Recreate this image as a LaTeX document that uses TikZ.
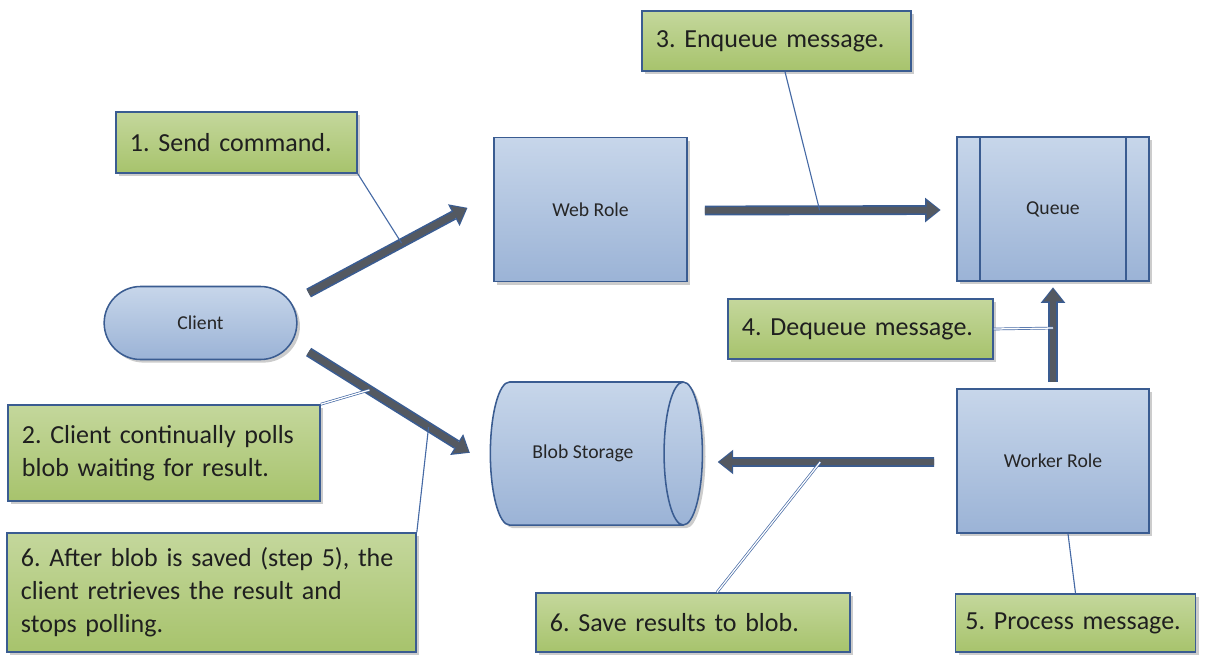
\documentclass[tikz,border=0pt]{standalone}
\usepackage{fontspec}
\setmainfont{Carlito}
\usetikzlibrary{arrows.meta}
\usetikzlibrary{shapes.geometric,shapes.misc}
\usetikzlibrary{shadows}
\definecolor{boxtop}{RGB}{199,214,234}
\definecolor{boxbot}{RGB}{155,179,214}
\definecolor{edgeblue}{RGB}{58,92,145}
\definecolor{notetop}{RGB}{196,215,156}
\definecolor{notebot}{RGB}{167,195,108}
\definecolor{shaft}{RGB}{84,89,97}
\definecolor{leadblue}{RGB}{70,106,165}

\begin{document}
\begin{tikzpicture}[x=0.025cm,y=-0.025cm,
        role/.style={draw=edgeblue,line width=1.1pt,top color=boxtop,bottom color=boxbot,
          text=black!85,font=\fontsize{14}{16}\selectfont,
          drop shadow={shadow xshift=2.2pt,shadow yshift=-2.2pt,opacity=.4}},
        note/.style={draw=edgeblue,line width=1.1pt,top color=notetop,bottom color=notebot,
          text=black!88,font=\fontsize{18.5}{23.5}\selectfont\frenchspacing,align=left,inner xsep=0.35cm,
          drop shadow={shadow xshift=2.2pt,shadow yshift=-2.2pt,opacity=.4}},
        blk/.style={draw=shaft,line width=4.6pt,-{Triangle[length=9pt,width=13.5pt,line width=0pt]},
          preaction={draw=edgeblue,line width=7pt,shorten >=-1pt,
            -{Triangle[length=11pt,width=17.5pt,line width=0pt]}}},
        lead/.style={draw=leadblue,line width=.8pt},
        lead2/.style={draw=leadblue,line width=.5pt,double=white,double distance=.9pt}]%
        \useasboundingbox (0,0) rectangle (1206,654);%%
        \begin{scope}[minimum width=4.8cm,minimum height=3.6cm]
        \node[role,rounded rectangle,minimum width=5.05cm,minimum height=1.825cm] (cl) at (200.5,323) {Client}; %%
        \node[role,rectangle,minimum width=4.825cm] (wr) at (590.5,209.5) {Web Role}; %%
        \node[role,rectangle] (qu) at (1053,209) {Queue}; %%
        \node[role,cylinder,aspect=1.45,minimum width=3.575cm,minimum height=5.3cm] (bs) at (583,453.5) {Blob Storage}; %%
        \node[role,rectangle] (wk) at (1053,461) {Worker Role}; %%
        \end{scope}
        \draw[edgeblue,line width=1.1pt] ([shift={(24,0)}]qu.north west) -- ([shift={(24,0)}]qu.south west); %%
        \draw[edgeblue,line width=1.1pt] ([shift={(-24,0)}]qu.north east) -- ([shift={(-24,0)}]qu.south east); %%
        % notes
        \node[note,text width=5.325cm,minimum height=1.525cm] (m1) at (236.5,142.5) {1. Send command.}; %%
        \node[note,text width=7.1cm,minimum height=2.4cm] (m2) at (164,453) {2. Client continually polls\\ blob waiting for result.}; %%
        \node[note,text width=6.025cm,minimum height=1.5cm] (m3) at (776.5,41) {3. Enqueue message.}; %%
        \node[note,text width=5.925cm,minimum height=1.5cm] (m4) at (860.5,329) {4. Dequeue message.}; %%
        \node[note,inner xsep=.25cm,text width=5.5cm,minimum height=1.45cm] (m5) at (1075.5,623) {5. Process message.}; %%
        \node[note,text width=7.15cm,minimum height=1.475cm] (m6b) at (693,622.5) {6. Save results to blob.}; %%
        \node[note,text width=9.525cm,minimum height=2.975cm] (m6) at (211.5,592.5) {6. After blob is saved (step 5), the\\ client retrieves the result and\\ stops polling.}; %%
        % arrows
        \draw[blk] ([shift={(11,-30)}]cl.east) -- coordinate[pos=.59] (p1) ([shift={(-27,-1)}]wr.west); %%
        \draw[blk] ([shift={(11,29)}]cl.east) -- coordinate[pos=.38] (p2) coordinate[pos=.75] (p6) ([shift={(-21,-1.5)}]bs.west); %%
        \draw[blk] ([shift={(17,1)}]wr.east) -- coordinate[pos=.49] (p3) ([shift={(-17,1)}]qu.west); %%
        \draw[blk] ([shift={(0,-6)}]wk.north) -- coordinate[pos=.58] (p4) ([shift={(0,7)}]qu.south); %%
        \draw[blk] ([shift={(-22,1)}]wk.west) -- coordinate[pos=.53] (p5) ([shift={(16,8.5)}]bs.east); %%
        % leader lines
        \draw[lead] (m1.south east) -- (p1); %%
        \draw[lead2] (m2.north east) -- (p2); %%
        \draw[lead] ([shift={(8.5,0)}]m3.south) -- (p3); %%
        \draw[lead2] (m4.east) -- (p4); %%
        \draw[lead] (m5.north) -- ([shift={(15,0)}]wk.south); %%
        \draw[lead2] ([shift={(24,0)}]m6b.north) -- (p5); %%
        \draw[lead] (m6.north east) -- (p6); %%
\end{tikzpicture}
\end{document}
